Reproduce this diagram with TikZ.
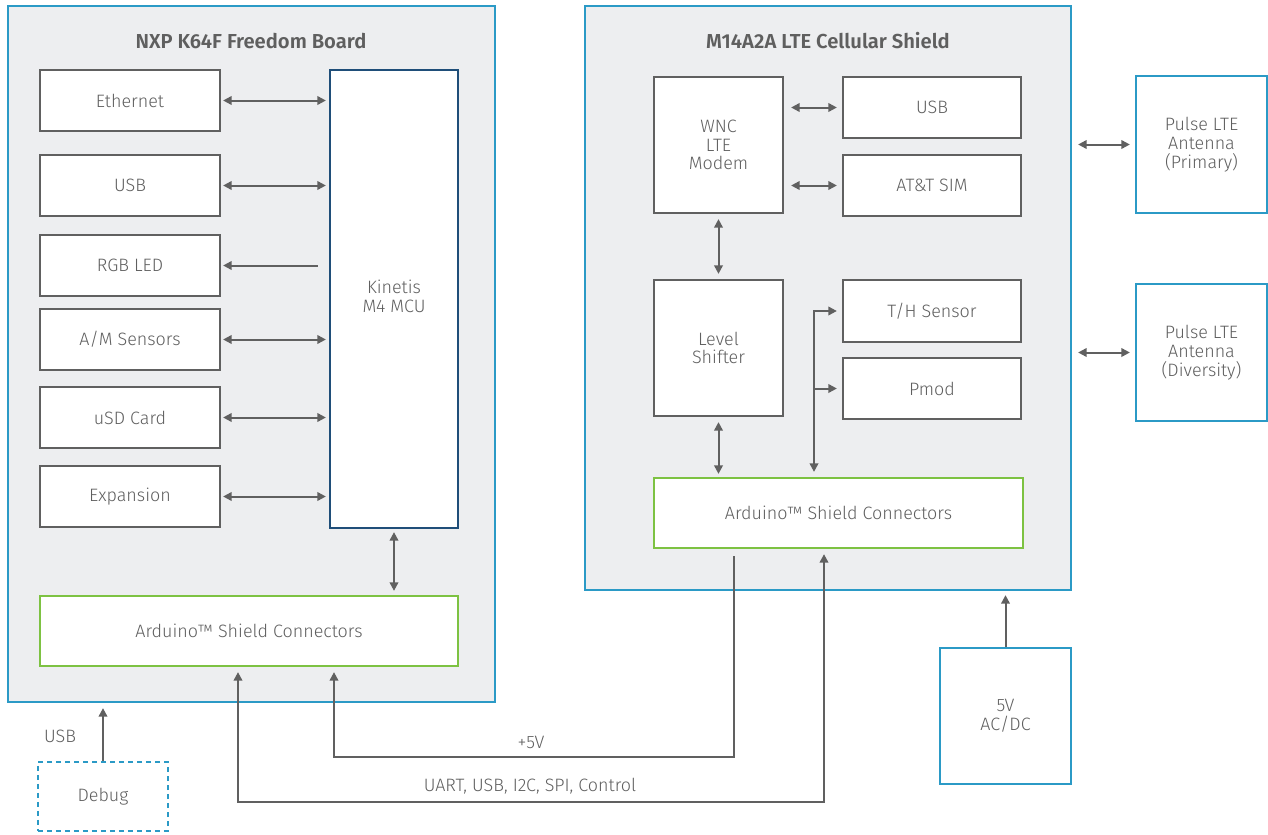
\documentclass[tikz,border=0pt]{standalone}
\usepackage{fontspec}
\setmainfont{Fira Sans Light}[BoldFont={Fira Sans SemiBold}]
\usetikzlibrary{arrows.meta}
\definecolor{bfill}{HTML}{EDEEF0}
\definecolor{bblue}{HTML}{2B9AC6}
\definecolor{bgreen}{HTML}{7DC242}
\definecolor{bnavy}{HTML}{1F4E79}
\definecolor{bgray}{HTML}{606060}
\definecolor{tgray}{HTML}{5F5F5F}
\tikzset{
  span/.style n args={4}{minimum width={(#3-#1)*0.02cm},minimum height={(#4-#2)*0.02cm},at={({(#1+#3)/2},{(#2+#4)/2})}},
  board/.style={draw=bblue,fill=bfill,line width=0.045cm,inner sep=0pt},
  box/.style={draw=bgray,fill=white,line width=0.045cm,inner sep=0pt,text=tgray,align=center,font=\fontsize{10.2}{10.7}\selectfont},
  mcubox/.style={box,draw=bnavy},
  conbox/.style={box,draw=bgreen},
  ext/.style={box,draw=bblue},
  dbgbox/.style={box,draw=bblue,dash pattern=on 0.1cm off 0.08cm},
  ttl/.style={text=tgray,font=\fontsize{11.5}{13}\selectfont\bfseries},
  lbl/.style={text=tgray,align=center,font=\fontsize{10.2}{10.7}\selectfont},
  conn/.style={draw=bgray,line width=0.04cm,>={Triangle[length=0.17cm,width=0.17cm]}},
}
\begin{document}
\begin{tikzpicture}[x=0.02cm,y=-0.02cm]
\useasboundingbox (0,0) rectangle (1268,835);
% boards
\node[board,span={8}{6}{495}{702}] (boardL) {};
\node[board,span={585}{6}{1071}{590}] (boardR) {};
\node[ttl] (ttlL) at (251,41) {NXP K64F Freedom Board};
\node[ttl] (ttlR) at (828,41) {M14A2A LTE Cellular Shield};
% left board
\node[box,span={40}{70}{220}{131}] (eth) {Ethernet};
\node[box,span={40}{155}{220}{216}] (usbL) {USB};
\node[box,span={40}{235}{220}{296}] (rgb) {RGB LED};
\node[box,span={40}{309}{220}{370}] (ams) {A/M Sensors};
\node[box,span={40}{387}{220}{448}] (usd) {uSD Card};
\node[box,span={40}{466}{220}{527}] (expn) {Expansion};
\node[mcubox,span={330}{70}{458}{528}] (mcu) {};
\node[lbl] (mcutxt) at (394,296) {Kinetis\\M4 MCU};
\node[conbox,span={40}{596}{458}{666}] (ardL) {Arduino™ Shield Connectors};
% right board
\node[box,span={654}{77}{783}{213}] (modem) {WNC\\LTE\\Modem};
\node[box,span={843}{77}{1021}{138}] (usbR) {USB};
\node[box,span={843}{155}{1021}{216}] (sim) {AT\&T SIM};
\node[box,span={654}{280}{783}{416}] (ls) {Level\\Shifter};
\node[box,span={843}{280}{1021}{342}] (th) {T/H Sensor};
\node[box,span={843}{358}{1021}{419}] (pmod) {Pmod};
\node[conbox,span={654}{478}{1023}{548}] (ardR) {Arduino™ Shield Connectors};
% external
\node[ext,span={1136}{76}{1267}{213}] (ant1) {Pulse LTE\\Antenna\\(Primary)};
\node[ext,span={1136}{284}{1267}{421}] (ant2) {Pulse LTE\\Antenna\\(Diversity)};
\node[ext,span={940}{648}{1071}{784}] (psu) {5V\\AC/DC};
\node[dbgbox,span={38}{762}{168}{831}] (dbg) {Debug};
\node[lbl] (usblbl) at (60,736) {USB};
% left connectors
\foreach \n in {eth,usbL,ams,usd,expn}
  \draw[conn,<->,shorten <=0.04cm,shorten >=0.06cm] (\n.east) -- (\n.east -| mcu.west);
\draw[conn,->,shorten <=0.22cm,shorten >=0.04cm] (rgb.east -| mcu.west) -- (rgb.east);
\draw[conn,<->,shorten <=0.06cm,shorten >=0.08cm] (mcu.south) -- (mcu.south |- ardL.north);
% right connectors
\draw[conn,<->,shorten <=0.14cm,shorten >=0.1cm] (modem.east |- usbR.west) -- (usbR.west);
\draw[conn,<->,shorten <=0.14cm,shorten >=0.1cm] (modem.east |- sim.west) -- (sim.west);
\draw[conn,<->,shorten <=0.1cm,shorten >=0.1cm] (modem.south) -- (ls.north);
\draw[conn,<->,shorten <=0.1cm,shorten >=0.06cm] (ls.south) -- (ls.south |- ardR.north);
\coordinate (bx) at (814,0);
\draw[conn,<->,shorten <=0.1cm,shorten >=0.1cm] (ardR.north -| bx) |- (th.west);
\draw[conn,->,shorten >=0.1cm] (pmod.west -| bx) -- (pmod.west);
\draw[conn,<->,shorten <=0.12cm,shorten >=0.1cm] (ant1.west -| boardR.east) -- (ant1.west);
\draw[conn,<->,shorten <=0.12cm,shorten >=0.1cm] (ant2.west -| boardR.east) -- (ant2.west);
\draw[conn,->,shorten >=0.08cm] (psu.north) -- (psu.north |- boardR.south);
\draw[conn,->,shorten >=0.1cm] (dbg.north) -- (dbg.north |- boardL.south);
% inter-board wires
\coordinate (pR) at (734,757);
\coordinate (pL) at (334,757);
\draw[conn,->,shorten <=0.14cm,shorten >=0.1cm] (ardR.south -| pR) -- (pR) -- (pL) -- (ardL.south -| pL);
\node[lbl] (p5lbl) at (531,742) {+5V};
\coordinate (uR) at (824,802);
\coordinate (uL) at (238,802);
\draw[conn,<->,shorten <=0.1cm,shorten >=0.1cm] (ardL.south -| uL) -- (uL) -- (uR) -- (ardR.south -| uR);
\node[lbl] (ulbl) at (530,786) {UART, USB, I2C, SPI, Control};
\end{tikzpicture}
\end{document}
